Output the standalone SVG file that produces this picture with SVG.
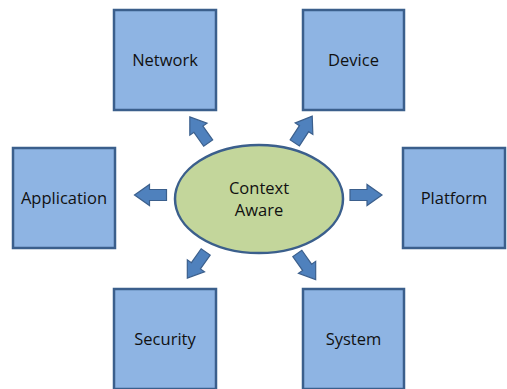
<svg xmlns="http://www.w3.org/2000/svg" width="507" height="389" viewBox="0 0 507 389">
<defs>
<style>
.box{fill:#8EB4E3;stroke:#3B5F8C;stroke-width:2.5}
.ell{fill:#C3D69B;stroke:#3B5F8C;stroke-width:2.5}
.arr{fill:#4F81BD;stroke:#3B5F8C;stroke-width:1.2;stroke-linejoin:miter}
text{font-family:"Open Sans","Noto Sans","Liberation Sans",sans-serif;font-size:16.5px;fill:#111;text-anchor:middle;dominant-baseline:central}
</style>
<path id="ar" d="M-16,-5.5 L1,-5.5 L1,-10.5 L16,0 L1,10.5 L1,5.5 L-16,5.5 Z"/>
</defs>
<rect width="507" height="389" fill="#fff"/>
<g id="connectors">
<use href="#ar" class="arr" transform="translate(150.5,195) rotate(180)"/>
<use href="#ar" class="arr" transform="translate(366,195)"/>
<use href="#ar" class="arr" transform="translate(199,130) rotate(-125)"/>
<use href="#ar" class="arr" transform="translate(303.5,129.5) rotate(-57)"/>
<use href="#ar" class="arr" transform="translate(196.5,265) rotate(125)"/>
<use href="#ar" class="arr" transform="translate(306.5,266.5) rotate(55)"/>
</g>
<g id="network"><rect class="box" x="114" y="10" width="102" height="100"/><text x="165" y="59">Network</text></g>
<g id="device"><rect class="box" x="303" y="10" width="101" height="100"/><text x="353.5" y="59">Device</text></g>
<g id="application"><rect class="box" x="13" y="148" width="102" height="100"/><text x="64" y="197">Application</text></g>
<g id="platform"><rect class="box" x="403" y="148" width="102" height="100"/><text x="454" y="197">Platform</text></g>
<g id="security"><rect class="box" x="114" y="289" width="102" height="100"/><text x="165" y="338">Security</text></g>
<g id="system"><rect class="box" x="303" y="289" width="101" height="100"/><text x="353.5" y="338">System</text></g>
<g id="context"><ellipse class="ell" cx="259" cy="199" rx="84" ry="54"/><text x="259" y="187">Context</text><text x="259" y="209">Aware</text></g>
</svg>
